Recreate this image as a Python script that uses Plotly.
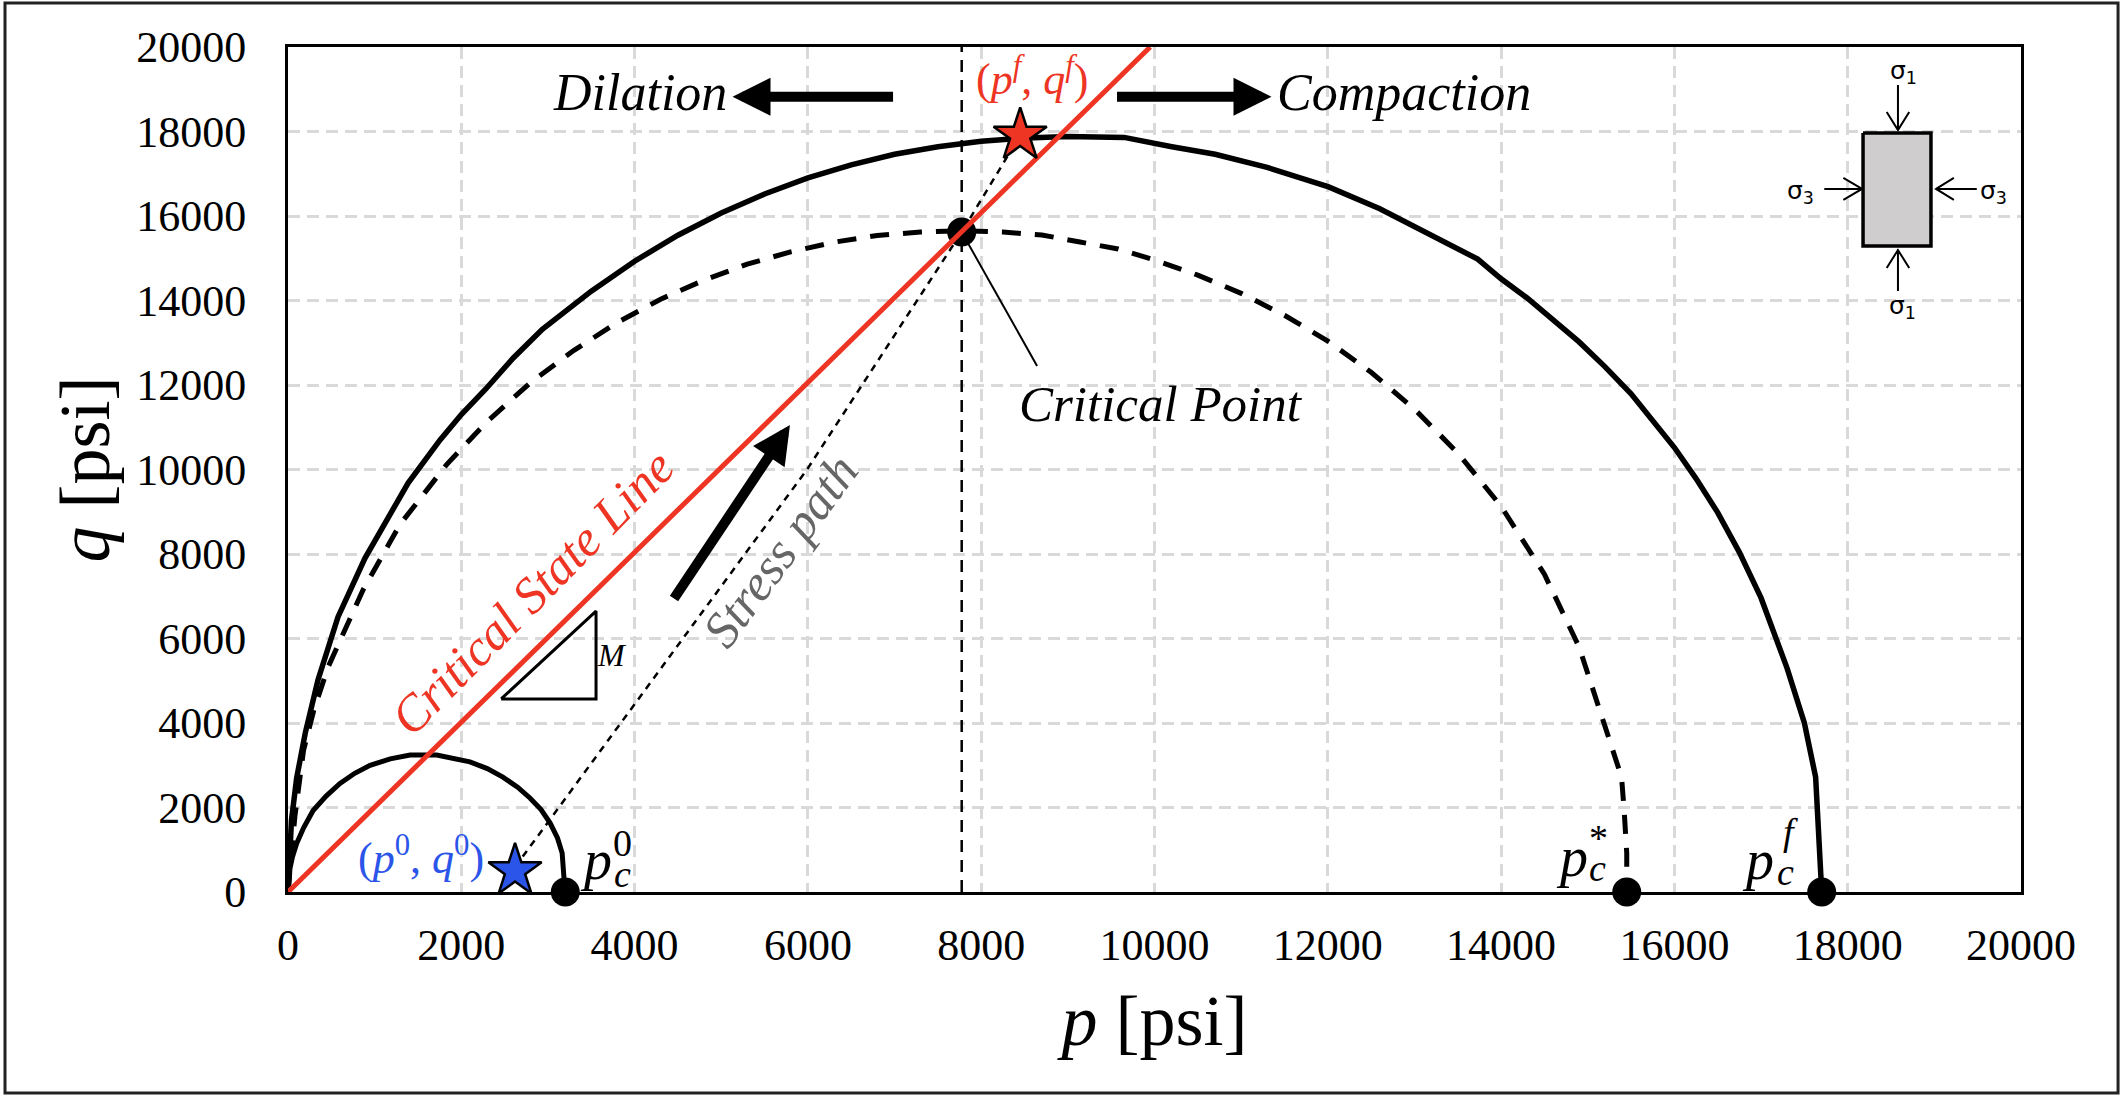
import plotly.graph_objects as go

# curves (p, q in psi)
outer_p = [0, 15, 40, 100, 200, 346, 577, 889, 1178, 1386, 1755, 2000, 2280, 2600, 2935, 3200, 3500, 4000, 4500, 5000,
           5500, 6000, 6500, 7000, 7500, 8000, 8450, 9000, 9650, 10200, 10700, 11300, 12010, 12600, 13200, 13730,
           14000, 14300, 14900, 15200, 15500, 15800, 16000, 16250, 16500, 16750, 17000, 17300, 17500, 17630, 17700]
outer_q = [0, 700, 1700, 2700, 3770, 5018, 6510, 7905, 8970, 9680, 10700, 11300, 11900, 12640, 13320, 13740, 14220,
           14930, 15545, 16070, 16520, 16900, 17210, 17460, 17640, 17770, 17840, 17880, 17860, 17640, 17460, 17150,
           16690, 16170, 15540, 14980, 14515, 14060, 13020, 12430, 11790, 11050, 10520, 9785, 8980, 8040, 6960, 5300,
           4000, 2720, 0]

inner_p = [0, 30, 80, 180, 300, 462, 866, 1293, 1836, 2300, 2800, 3300, 3800, 4300, 4800, 5300, 5800, 6300, 6800, 7300,
           7775, 8250, 8700, 9140, 9580, 10000, 10500, 11000, 11500, 12000, 12500, 13000, 13500, 14000, 14500, 14900,
           15200, 15390, 15420, 15450, 15450]
inner_q = [0, 800, 1800, 3360, 4320, 5320, 7150, 8700, 10130, 11140, 12060, 12820, 13480, 14030, 14480, 14860, 15150,
           15380, 15540, 15620, 15650, 15620, 15550, 15385, 15220, 14960, 14600, 14170, 13650, 13040, 12300, 11430,
           10390, 9130, 7520, 5800, 3900, 2720, 1940, 920, 0]

small_p = [0, 10, 23, 50, 100, 180, 290, 440, 600, 770, 947, 1180, 1409, 1717, 1900, 2100, 2300, 2480, 2650, 2795, 2920,
           3025, 3110, 3164, 3187, 3200]
small_q = [0, 350, 560, 820, 1150, 1520, 1930, 2270, 2570, 2810, 3000, 3150, 3240, 3240, 3170, 3080, 2920, 2720, 2480,
           2220, 1950, 1630, 1280, 920, 280, 0]

csl_p = [0, 1000, 2000, 3000, 4000, 5000, 6000, 7000, 7775, 8500, 9000, 9500, 9950]
csl_q = [0, 2010, 4030, 6020, 8050, 10040, 12070, 14070, 15630, 17090, 18090, 19100, 20000]

path_p = [2620, 5995, 7775, 8450]
path_q = [590, 10015, 15620, 17910]

vline_p = [7775, 7775]
vline_q = [0, 20000]

leader_p = [7775, 8645]
leader_q = [15620, 12450]

slope_p = [2460, 3555, 3555, 2460]
slope_q = [4570, 4570, 6650, 4570]

point_p = [3200, 7775, 15450, 17700]
point_q = [0, 15620, 0, 0]

rect_p = [18177, 18961, 18961, 18177, 18177]
rect_q = [17964, 17964, 15290, 15290, 17964]

# inset arrows: tail, tip, barb, tip, barb
arrow_top = ([18580, 18580, 18450, 18580, 18710], [19100, 18035, 18460, 18035, 18460])
arrow_bot = ([18580, 18580, 18450, 18580, 18710], [14225, 15195, 14770, 15195, 14770])
arrow_left = ([17730, 18165, 17950, 18165, 17950], [16640, 16640, 16900, 16640, 16380])
arrow_right = ([19490, 19020, 19225, 19020, 19225], [16640, 16640, 16900, 16640, 16380])

ticks = [0, 2000, 4000, 6000, 8000, 10000, 12000, 14000, 16000, 18000, 20000]

RED = "#EE3524"
BLUE = "#2B55E8"
SERIF = "Liberation Serif"

fig = go.Figure()


def add_line(x, y, color="black", width=5, dash="solid"):
    fig.add_trace(go.Scatter(x=x, y=y, mode="lines", line=dict(color=color, width=width, dash=dash),
                             showlegend=False, hoverinfo="skip"))


fig.add_trace(go.Scatter(x=rect_p, y=rect_q, mode="lines", fill="toself", fillcolor="#CFCDCE",
                         line=dict(color="black", width=3.5), showlegend=False, hoverinfo="skip"))
for a in [arrow_top, arrow_bot, arrow_left, arrow_right]:
    add_line(a[0], a[1], width=2)

add_line(vline_p, vline_q, width=2.5, dash="12px,8px")
add_line(path_p, path_q, width=2.5, dash="7px,6px")
add_line(leader_p, leader_q, width=2)
add_line(slope_p, slope_q, width=3)
add_line(outer_p, outer_q, width=5.5)
add_line(inner_p, inner_q, width=5, dash="19px,14px")
add_line(small_p, small_q, width=5)
fig.add_trace(go.Scatter(x=point_p, y=point_q, mode="markers", cliponaxis=False,
                         marker=dict(color="black", size=29), showlegend=False, hoverinfo="skip"))
add_line(csl_p, csl_q, color=RED, width=5)
fig.add_trace(go.Scatter(x=[2620], y=[500], mode="markers", cliponaxis=False,
                         marker=dict(symbol="star", color=BLUE, size=40, line=dict(color="black", width=2.5)),
                         showlegend=False, hoverinfo="skip"))
fig.add_trace(go.Scatter(x=[8450], y=[17910], mode="markers", cliponaxis=False,
                         marker=dict(symbol="star", color=RED, size=40, line=dict(color="black", width=2.5)),
                         showlegend=False, hoverinfo="skip"))


def label(x, y, text, size=51, color="black", angle=0, family=SERIF):
    fig.add_annotation(x=x, y=y, text=text, showarrow=False, textangle=angle,
                       font=dict(family=family, size=size, color=color))


def arrow(x0, y0, x1, y1):
    fig.add_annotation(x=x1, y=y1, ax=x0, ay=y0, xref="x", yref="y", axref="x", ayref="y", text="",
                       showarrow=True, arrowhead=2, arrowsize=0.76, arrowwidth=10, arrowcolor="black")


arrow(7000, 18820, 5130, 18820)
arrow(9550, 18820, 11350, 18820)
arrow(4443, 6911, 5793, 11053)

label(4060, 18920, "<i>Dilation</i>", 52)
label(12880, 18920, "<i>Compaction</i>", 52)
label(10075, 11550, "<i>Critical Point</i>", 51)
label(2827, 7100, "<i>Critical State Line</i>", 51, RED, -45.3)
label(5680, 8070, "<i>Stress path</i>", 51, "#666666", -53.7)
label(3740, 5620, "<i>M</i>", 32)
label(1540, 870, "(<i>p</i><sup>0</sup>, <i>q</i><sup>0</sup>)", 44, BLUE)
label(8585, 19300, "(<i>p</i><sup><i>f</i></sup>, <i>q</i><sup><i>f</i></sup>)", 44, RED)

# pc labels are stacked by hand since sub/sup can't share a column
label(3560, 760, "<i>p</i>", 56)
label(3860, 420, "<i>c</i>", 38)
label(3860, 1160, "0", 38)
label(14820, 830, "<i>p</i>", 56)
label(15110, 570, "<i>c</i>", 38)
label(15120, 1280, "*", 38)
label(16960, 760, "<i>p</i>", 56)
label(17280, 480, "<i>c</i>", 38)
label(17340, 1420, "<i>f</i>", 38)

label(18640, 19410, "σ<sub>1</sub>", 25, family="DejaVu Sans")
label(18630, 13850, "σ<sub>1</sub>", 25, family="DejaVu Sans")
label(17450, 16570, "σ<sub>3</sub>", 25, family="DejaVu Sans")
label(19680, 16570, "σ<sub>3</sub>", 25, family="DejaVu Sans")

axis_style = dict(range=[0, 20000], tickvals=ticks, ticktext=[str(t) for t in ticks], showgrid=True,
                  gridcolor="#D9D9D9", gridwidth=2.5, griddash="12px,7px", zeroline=False, showline=True,
                  linecolor="black", linewidth=3, mirror=True, ticks="",
                  tickfont=dict(family=SERIF, size=44, color="black"))
fig.update_xaxes(**axis_style, ticklabelstandoff=12,
                 title=dict(text="<i>p</i> [psi]", font=dict(family=SERIF, size=72, color="black"), standoff=26))
fig.update_yaxes(**axis_style, ticklabelstandoff=30,
                 title=dict(text="<i>q</i> [psi]", font=dict(family=SERIF, size=72, color="black"), standoff=4))

fig.add_shape(type="rect", xref="paper", yref="paper", x0=-0.1633, x1=1.056, y0=-0.238, y1=1.052,
              line=dict(color="#222222", width=3))

fig.update_layout(width=2124, height=1098, margin=dict(l=288, r=103, t=47, b=206),
                  paper_bgcolor="white", plot_bgcolor="white", showlegend=False)

fig.write_html("out.html", config=dict(displayModeBar=False), post_script="document.body.style.margin='0';")
